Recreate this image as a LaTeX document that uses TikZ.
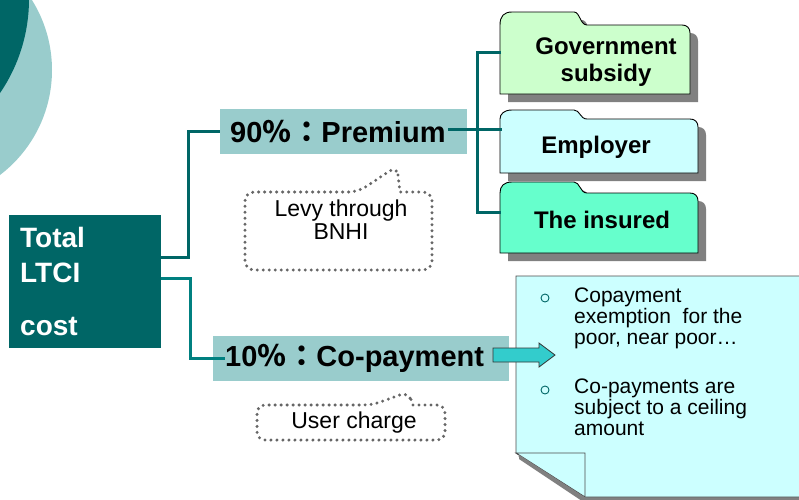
\documentclass[tikz,border=0pt]{standalone}
\usepackage{fontspec}
\setmainfont{Liberation Sans}
\newfontfamily\cjk{Noto Sans CJK JP}
\definecolor{darkteal}{HTML}{006666}
\definecolor{midteal}{HTML}{008080}
\definecolor{lightteal}{HTML}{99CCCC}
\definecolor{govc}{HTML}{CCFFCC}
\definecolor{empc}{HTML}{CCFFFF}
\definecolor{insc}{HTML}{66FFCC}
\definecolor{notec}{HTML}{CCFFFF}
\definecolor{arrowc}{HTML}{33CCCC}
\definecolor{shadowc}{HTML}{808080}
\definecolor{dotc}{HTML}{666666}
\newcommand{\fldr}[5]{(#1,#5) -- (#1,#4) .. controls (#1,{#3+4}) and ({#1+4},#3) .. ({#1+12},#3) -- ({#1+74},#3) .. controls ({#1+80},#3) and ({#1+80},#4) .. ({#1+87},#4) -- ({#2-8},#4) .. controls ({#2-3},#4) and (#2,{#4+3}) .. (#2,{#4+8}) -- (#2,#5) -- cycle}
\tikzset{
  conna/.style={draw=darkteal, line width=3pt},
  connb/.style={draw=midteal, line width=3pt},
  titlebox/.style={fill=lightteal, inner xsep=10pt, inner ysep=0pt, align=left,
     font=\bfseries\fontsize{29}{33}\selectfont, minimum height=45pt},
  ftext/.style={inner sep=0pt, align=center, font=\bfseries\fontsize{24}{27}\selectfont},
  fshape/.style={draw=black, line width=0.9pt},
  fshadow/.style={fill=shadowc, xshift=8pt, yshift=-8pt},
  dotline/.style={draw=dotc, line width=3.3pt, dash pattern=on 0pt off 6pt, line cap=round},
  calltext/.style={inner sep=0pt, align=center, font=\fontsize{23}{23}\selectfont},
  notetext/.style={inner sep=0pt, align=left, font=\fontsize{21}{21}\selectfont},
  bullet/.style={draw=darkteal, line width=0.9pt},
  blockarrow/.style={draw=black!80, line width=0.8pt, fill=arrowc, line join=miter}
}
\begin{document}
\begin{tikzpicture}[x=1pt,y=-1pt]
\useasboundingbox (0,0) rectangle (799,499);
\clip (0,0) rectangle (799,499);
% background circles
\fill[lightteal] (-80,70) circle[radius=132];
\fill[darkteal] (-138,-1) circle[radius=167];
% total box
\node[fill=darkteal, text=white, minimum width=152pt, minimum height=133pt,
      text width=130pt, inner xsep=11pt, inner ysep=0pt, align=left,
      font=\bfseries\fontsize{28}{35}\selectfont, anchor=north west] (total) at (9,215)
      {Total\\LTCI\\[18pt]cost};
% title boxes
\node[titlebox, minimum width=247pt, text width=227pt, anchor=north west] (prem) at (220,109)
  {90{\cjk ％\hspace{1pt}：}Premium};
\node[titlebox, minimum width=296pt, text width=272pt, inner xsep=12pt, anchor=north west] (copay) at (213,336)
  {10{\cjk ％\hspace{1pt}：}Co-payment};
% connectors from total
\draw[conna] (total.east |- 0,257) -| ([xshift=-32pt]prem.west) -- (prem.west);
\draw[connb] (total.east |- 0,278) -| ([xshift=-23pt]copay.west) -- ([xshift=12pt]copay.west);
% folders
\fill[fshadow] \fldr{500}{690}{12}{25}{94};
\fill[fshadow] \fldr{500}{698}{110}{119}{173};
\fill[fshadow] \fldr{500}{698}{182}{193}{253};
\path[fshape, fill=govc] \fldr{500}{690}{12}{25}{94};
\path[fshape, fill=empc] \fldr{500}{698}{110}{119}{173};
\path[fshape, fill=insc] \fldr{500}{698}{182}{193}{253};
\node[ftext] (gov) at (606,62) {Government\\subsidy};
\node[ftext, anchor=base] (emp) at (596,153) {Employer};
\node[ftext, anchor=base] (ins) at (602,228) {The insured};
\coordinate (gin) at (501,52);
\coordinate (ein) at (502,129);
\coordinate (iin) at (501,212);
\coordinate (pout) at ([xshift=-19pt]prem.east |- 0,129);
\coordinate (busT) at (477,52);
\coordinate (busB) at (477,212);
% bus connectors
\draw[conna] (gin) -- (busT) -- (busB) -- (iin);
\draw[conna] (pout) -- (ein);
% callouts
\draw[dotline] (397,166) -- (400,192) [rounded corners=9pt] -- (432,192) -- (432,270) -- (245,270) -- (245,192) -- (358,192) -- cycle;
\node[calltext] (levy) at (341,220) {Levy through\\BNHI};
\draw[dotline] (408,392) -- (413,405) [rounded corners=8pt] -- (445,405) -- (445,440) -- (257,440) -- (257,405) -- (372,405) -- cycle;
\node[calltext, anchor=base] (user) at (354,428) {User charge};
% note box
\fill[shadowc] (519,279) -- (805,279) -- (805,505) -- (588,505) -- (519,459) -- cycle;
\path[draw=black!70, line width=0.9pt, fill=notec] (516,276) -- (805,276) -- (805,497) -- (585,497) -- (516,453) -- cycle;
\path[draw=black!70, line width=0.9pt, fill=notec] (516,453) -- (585,453) -- (585,497) -- cycle;
\draw[shadowc, line width=2pt] (519,456) -- (586,499);
\draw[bullet] (545,298) circle[radius=4];
\draw[bullet] (545,390) circle[radius=4];
\node[notetext, anchor=west] (n1) at (574,318.5) {Copayment\\exemption\ \ for the\\poor, near poor…};
\node[notetext, anchor=west] (n2) at (574,407.5) {Co-payments are\\subject to a ceiling\\amount};
% block arrow
\path[blockarrow] (493,348) -- (539,348) -- (539,343) -- (555,355) -- (539,367) -- (539,362) -- (493,362) -- cycle;
\end{tikzpicture}
\end{document}
